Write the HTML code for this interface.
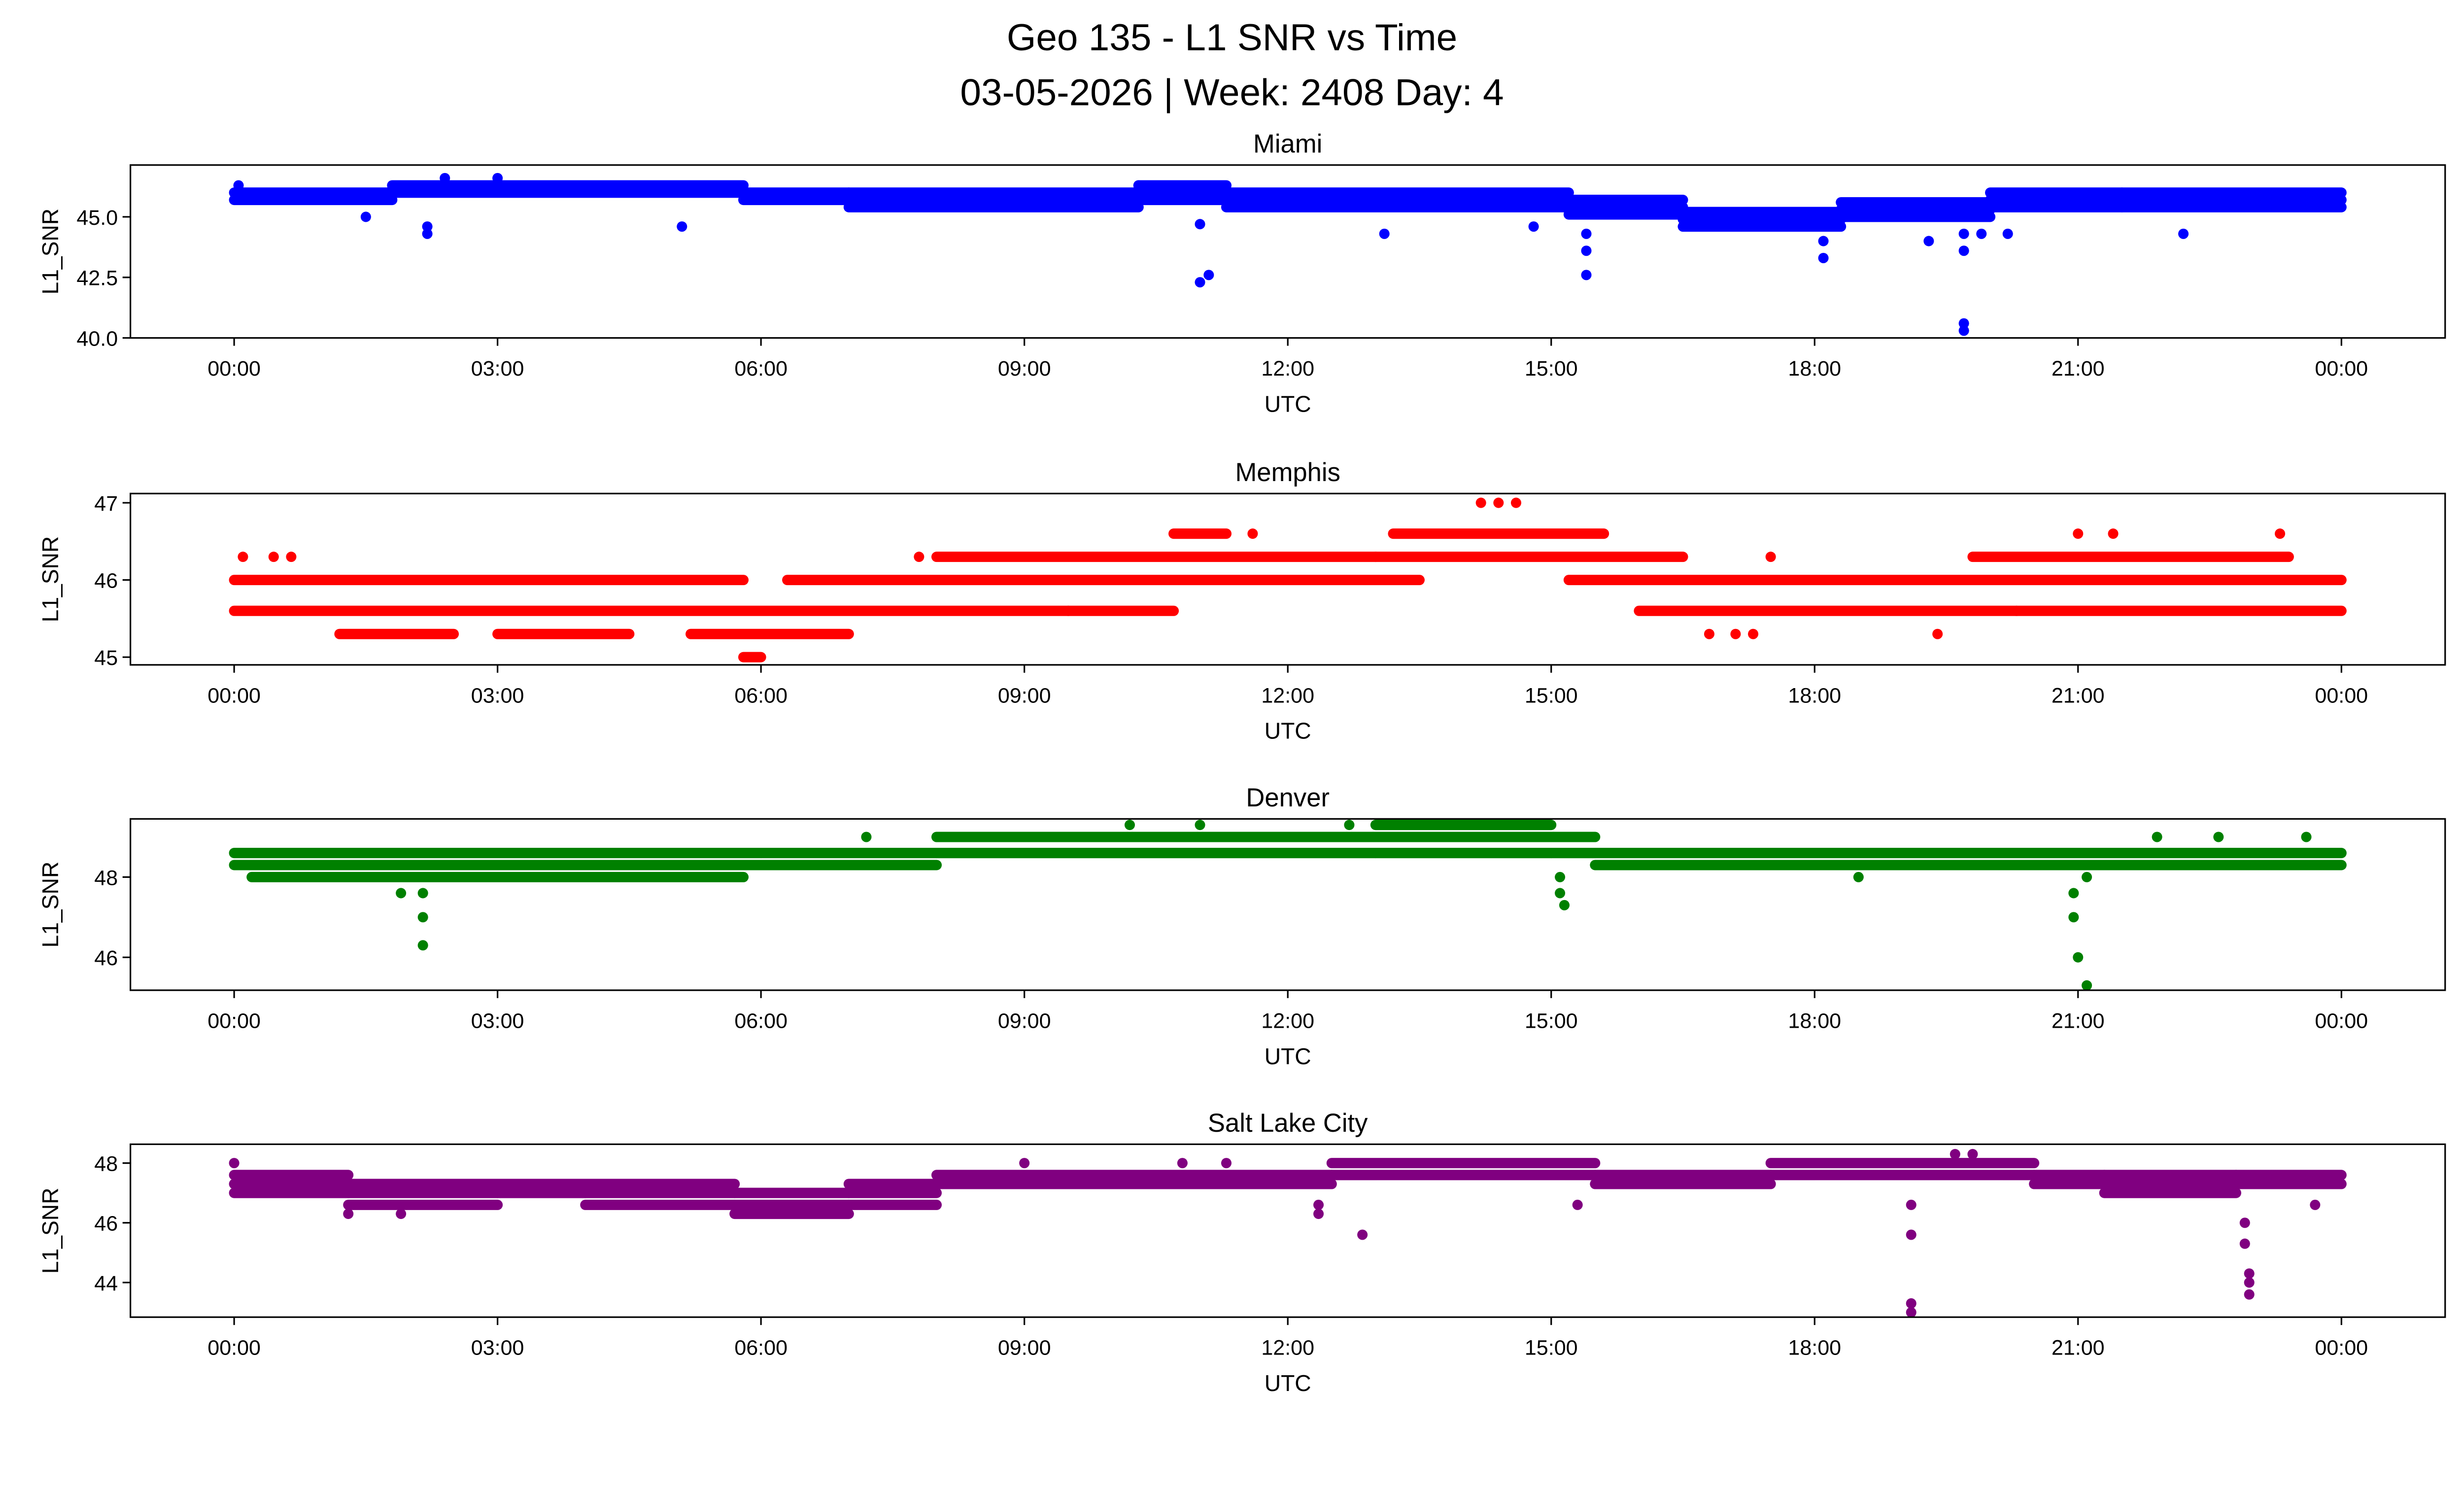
<!DOCTYPE html>
<html><head><meta charset="utf-8"><style>
html,body{margin:0;padding:0;background:#fff;overflow:hidden}
svg{display:block;position:absolute;left:0;top:0;width:100vw;height:57.465vw;font-family:"Liberation Sans","DejaVu Sans",sans-serif}
</style></head><body>
<svg id="fig" viewBox="0 0 1568 901" preserveAspectRatio="xMinYMin meet" xmlns="http://www.w3.org/2000/svg">
<rect x="0" y="0" width="1568" height="901" fill="#fff"/>
<text x="784" y="32" text-anchor="middle" font-size="24">Geo 135 - L1 SNR vs Time</text>
<text x="784" y="67" text-anchor="middle" font-size="24">03-05-2026 | Week: 2408 Day: 4</text>
<g id="plots"></g>
</svg>
<script>
// x tick labels
const xTickHours = [0,3,6,9,12,15,18,21,24];
const xTickLabels = ["00:00","03:00","06:00","09:00","12:00","15:00","18:00","21:00","00:00"];

// Miami
const miamiSegStart = [0,0,1.8,1.8,5.8,5.8,7,7,7,10.3,10.3,10.3,11.3,11.3,11.3,15.2,15.2,15.2,16.5,16.5,16.5,18.3,18.3,18.3,20,20,20,21.5,21.5,21.5];
const miamiSegEnd   = [1.8,1.8,5.8,5.8,7,7,10.3,10.3,10.3,11.3,11.3,11.3,15.2,15.2,15.2,16.5,16.5,16.5,18.3,18.3,18.3,20,20,20,21.5,21.5,21.5,24,24,24];
const miamiSegLevel = [45.7,46.0,46.0,46.3,45.7,46.0,45.4,45.7,46.0,45.7,46.0,46.3,45.4,45.7,46.0,45.1,45.4,45.7,44.6,44.9,45.2,45.0,45.3,45.6,45.4,45.7,46.0,45.4,45.7,46.0];
const miamiOutT = [0.05,1.5,2.2,2.2,2.4,3,5.1,10.3,11,11.1,11,13.1,14.8,15.4,15.4,15.4,18.1,18.1,19.7,19.7,19.7,19.7,19.3,19.9,20.2,22.2];
const miamiOutV = [46.3,45.0,44.6,44.3,46.6,46.6,44.6,46.3,42.3,42.6,44.7,44.3,44.6,43.6,42.6,44.3,43.3,44.0,40.3,40.6,43.6,44.3,44.0,44.3,44.3,44.3];

// Memphis
const memSegStart = [0,6.3,15.2,0,9.5,16,20.3,3,5.2,1.2,8,13,19.8,10.7,13.2,5.8];
const memSegEnd   = [5.8,13.5,24,9.5,10.7,20.3,24,4.5,7,2.5,13,16.5,23.4,11.3,15.6,6.0];
const memSegLevel = [46.0,46.0,46.0,45.6,45.6,45.6,45.6,45.3,45.3,45.3,46.3,46.3,46.3,46.6,46.6,45.0];
const memOutT = [0.1,0.45,0.65,7.8,11.6,14.2,14.4,14.6,17.5,16.8,17.1,17.3,19.4,21,21.4,23.3];
const memOutV = [46.3,46.3,46.3,46.3,46.6,47.0,47.0,47.0,46.3,45.3,45.3,45.3,45.3,46.6,46.6,46.6];

// Denver
const denSegStart = [0,0,0.2,6,6,8,8,13,13,13,15,15,15.5,15.5];
const denSegEnd   = [6,6,5.8,8,8,13,13,15,15,15,15.5,15.5,24,24];
const denSegLevel = [48.3,48.6,48.0,48.3,48.6,48.6,49.0,48.6,49.0,49.3,48.6,49.0,48.3,48.6];
const denOutT = [1.9,2.15,2.15,2.15,15.1,15.1,15.15,20.95,20.95,21,21.1,21.1,10.2,11,12.7,7.2,18.5,21.9,22.6,23.6];
const denOutV = [47.6,47.6,47.0,46.3,48.0,47.6,47.3,47.6,47.0,46.0,45.3,48.0,49.3,49.3,49.3,49.0,48.0,49.0,49.0,49.0];

// Salt Lake City
const slcSegStart = [0,0,0,1.3,1.3,1.3,3,3,4,4,4,5.7,5.7,5.7,7,7,7,8,8,12.5,12.5,15.5,15.5,17.5,17.5,20.5,20.5,21.3,21.3,21.3,22.8,22.8];
const slcSegEnd   = [1.3,1.3,1.3,3,3,3,4,4,5.7,5.7,5.7,7,7,7,8,8,8,12.5,12.5,15.5,15.5,17.5,17.5,20.5,20.5,21.3,21.3,22.8,22.8,22.8,24,24];
const slcSegLevel = [47.0,47.3,47.6,46.6,47.0,47.3,47.0,47.3,46.6,47.0,47.3,46.3,46.6,47.0,46.6,47.0,47.3,47.3,47.6,47.6,48.0,47.3,47.6,47.6,48.0,47.3,47.6,47.0,47.3,47.6,47.3,47.6];
const slcOutT = [0,12.35,12.35,12.85,19.1,19.1,19.1,19.1,22.9,22.9,22.95,22.95,22.95,19.6,19.8,1.3,1.9,9,10.8,11.3,15.3,23.7];
const slcOutV = [48,46.6,46.3,45.6,45.6,43.3,43.0,46.6,46.0,45.3,44.3,44.0,43.6,48.3,48.3,46.3,46.3,48.0,48.0,48.0,46.6,46.6];

const panels = [
 {name:"miami",title:"Miami",color:"#0000ff",top:105,bottom:215,ymin:40,ymax:47.14,ticks:[40,42.5,45],tickLabels:["40.0","42.5","45.0"],ss:miamiSegStart,se:miamiSegEnd,sl:miamiSegLevel,ot:miamiOutT,ov:miamiOutV},
 {name:"memphis",title:"Memphis",color:"#ff0000",top:314,bottom:423,ymin:44.9,ymax:47.12,ticks:[45,46,47],tickLabels:["45","46","47"],ss:memSegStart,se:memSegEnd,sl:memSegLevel,ot:memOutT,ov:memOutV},
 {name:"denver",title:"Denver",color:"#008000",top:521,bottom:630,ymin:45.18,ymax:49.45,ticks:[46,48],tickLabels:["46","48"],ss:denSegStart,se:denSegEnd,sl:denSegLevel,ot:denOutT,ov:denOutV},
 {name:"salt-lake-city",title:"Salt Lake City",color:"#800080",top:728,bottom:838,ymin:42.84,ymax:48.63,ticks:[44,46,48],tickLabels:["44","46","48"],ss:slcSegStart,se:slcSegEnd,sl:slcSegLevel,ot:slcOutT,ov:slcOutV}
];
const NS="http://www.w3.org/2000/svg";
const L=83,R=1556,x0=149,x24=1490;
const xs=h=>x0+(x24-x0)*h/24;
const root=document.getElementById('plots');
function mk(tag,attrs,parent){const e=document.createElementNS(NS,tag);for(const k in attrs)e.setAttribute(k,attrs[k]);parent.appendChild(e);return e;}
panels.forEach(p=>{
  const ys=v=>p.bottom-(p.bottom-p.top)*(v-p.ymin)/(p.ymax-p.ymin);
  const g=mk('g',{},root);
  
  
  const marks=mk('g',{},g);
  
  
  for(let i=0;i<p.ss.length;i++){
    const ln=mk('line',{x1:xs(p.ss[i]),x2:xs(p.se[i]),y1:ys(p.sl[i]),y2:ys(p.sl[i]),stroke:p.color,'stroke-width':6.6,'stroke-linecap':'round'},marks);
    
    
  }
  for(let i=0;i<p.ot.length;i++){
    const c=mk('circle',{cx:xs(p.ot[i]),cy:ys(p.ov[i]),r:3.3,fill:p.color},marks);
    
    
  }
  const fr=mk('rect',{x:L,y:p.top,width:R-L,height:p.bottom-p.top,fill:'none',stroke:'#000','stroke-width':1},g);
  
  
  const t=mk('text',{x:(L+R)/2,y:p.top-8,'text-anchor':'middle','font-size':16.5},g);
  t.textContent=p.title;
  
  
  xTickHours.forEach((h,i)=>{
    mk('line',{x1:xs(h),x2:xs(h),y1:p.bottom,y2:p.bottom+5,stroke:'#000','stroke-width':1},g);
    const tl=mk('text',{x:xs(h),y:p.bottom+24,'text-anchor':'middle','font-size':13.5},g);
    tl.textContent=xTickLabels[i];
    
    
  });
  const xl=mk('text',{x:(L+R)/2,y:p.bottom+47,'text-anchor':'middle','font-size':14.5},g);
  xl.textContent='UTC';
  
  
  p.ticks.forEach((v,i)=>{
    mk('line',{x1:L-5,x2:L,y1:ys(v),y2:ys(v),stroke:'#000','stroke-width':1},g);
    const yl=mk('text',{x:L-8,y:ys(v)+5,'text-anchor':'end','font-size':13.5},g);
    yl.textContent=p.tickLabels[i];
    
    
  });
  const cy=(p.top+p.bottom)/2;
  const yt=mk('text',{x:0,y:0,'text-anchor':'middle','font-size':14.5,transform:`translate(37,${cy}) rotate(-90)`},g);
  yt.textContent='L1_SNR';
  
  
});
</script>
</body></html>
